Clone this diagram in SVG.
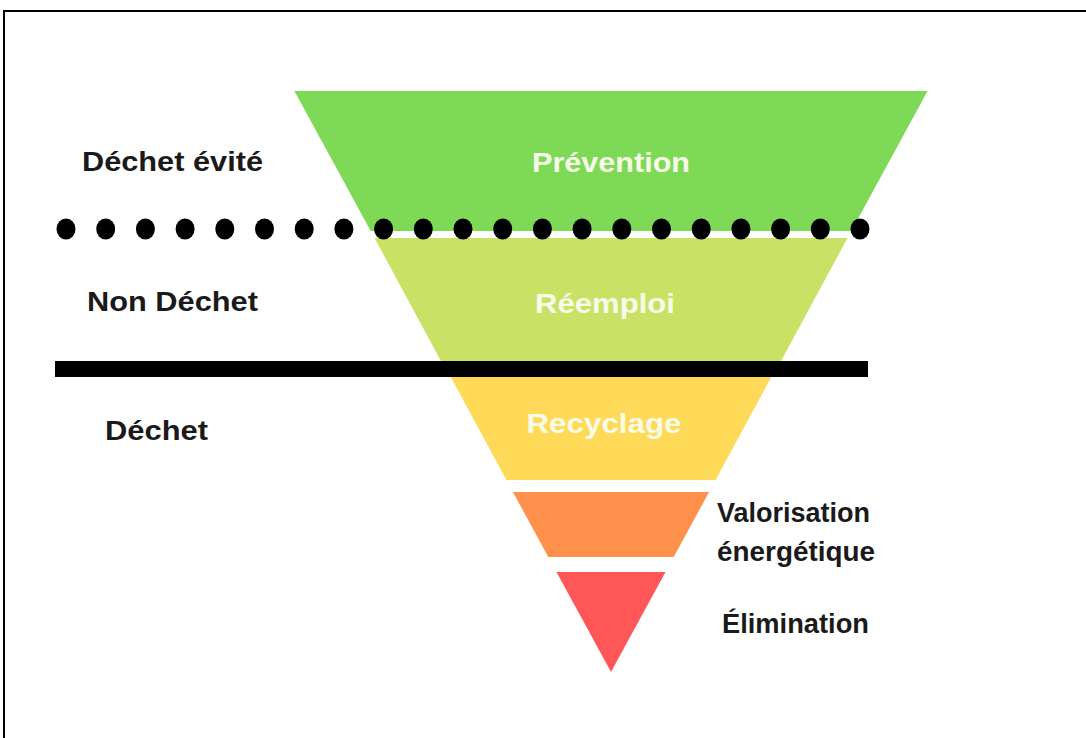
<svg xmlns="http://www.w3.org/2000/svg" width="1086" height="738" viewBox="0 0 1086 738">
  <style>
    .lbl { font-family: "Liberation Sans", Arial, sans-serif; font-weight: bold; font-size: 27px; fill: #1a1a1a; }
    .inner { font-family: "Liberation Sans", Arial, sans-serif; font-weight: bold; font-size: 28px; fill: #f8fbe8; text-anchor: middle; }
    .dot { fill: #000000; }
  </style>
  <rect x="0" y="0" width="1086" height="738" fill="#ffffff"/>
  <!-- frame -->
  <g id="frame" stroke="#000000" stroke-width="2" fill="none">
    <line x1="4" y1="11" x2="1086" y2="11"/>
    <line x1="4" y1="10" x2="4" y2="738"/>
  </g>

  <g id="prevention">
    <polygon points="294.4,91 927.6,91 851.3,231 370.7,231" fill="#7ED957"/>
    <text class="inner" x="611" y="172" textLength="158" lengthAdjust="spacingAndGlyphs">Prévention</text>
  </g>
  <g id="reemploi">
    <polygon points="374.5,238 847.5,238 780.5,362 441.5,362" fill="#C9E265"/>
    <text class="inner" x="605" y="313" textLength="140" lengthAdjust="spacingAndGlyphs">Réemploi</text>
  </g>
  <g id="recyclage">
    <polygon points="450.2,376 771.8,376 715.6,480 506.4,480" fill="#FFDA59"/>
    <text class="inner" x="604" y="433" textLength="155" lengthAdjust="spacingAndGlyphs">Recyclage</text>
  </g>
  <g id="valorisation">
    <polygon points="512.9,492 709.1,492 673.7,557 548.3,557" fill="#FF914D"/>
    <text class="lbl" x="717" y="522" font-size="26" textLength="153" lengthAdjust="spacingAndGlyphs">Valorisation</text>
    <text class="lbl" x="717" y="561" font-size="26" textLength="158" lengthAdjust="spacingAndGlyphs">énergétique</text>
  </g>
  <g id="elimination">
    <polygon points="556.5,572 665.5,572 611,672" fill="#FF5757"/>
    <text class="lbl" x="722" y="633" font-size="26" textLength="147" lengthAdjust="spacingAndGlyphs">Élimination</text>
  </g>

  <g id="label-evite">
    <text class="lbl" x="82" y="171" textLength="181" lengthAdjust="spacingAndGlyphs">Déchet évité</text>
  </g>
  <g id="label-non-dechet">
    <text class="lbl" x="87" y="311" textLength="171" lengthAdjust="spacingAndGlyphs">Non Déchet</text>
  </g>
  <g id="label-dechet">
    <text class="lbl" x="105" y="440" textLength="103" lengthAdjust="spacingAndGlyphs">Déchet</text>
  </g>

  <g id="connectors">
    <g id="dotted-line">
      <ellipse class="dot" cx="66" cy="229" rx="9.5" ry="10.5"/>
      <ellipse class="dot" cx="105.7" cy="229" rx="9.5" ry="10.5"/>
      <ellipse class="dot" cx="145.4" cy="229" rx="9.5" ry="10.5"/>
      <ellipse class="dot" cx="185.1" cy="229" rx="9.5" ry="10.5"/>
      <ellipse class="dot" cx="224.8" cy="229" rx="9.5" ry="10.5"/>
      <ellipse class="dot" cx="264.5" cy="229" rx="9.5" ry="10.5"/>
      <ellipse class="dot" cx="304.2" cy="229" rx="9.5" ry="10.5"/>
      <ellipse class="dot" cx="343.9" cy="229" rx="9.5" ry="10.5"/>
      <ellipse class="dot" cx="383.6" cy="229" rx="9.5" ry="10.5"/>
      <ellipse class="dot" cx="423.3" cy="229" rx="9.5" ry="10.5"/>
      <ellipse class="dot" cx="463" cy="229" rx="9.5" ry="10.5"/>
      <ellipse class="dot" cx="502.7" cy="229" rx="9.5" ry="10.5"/>
      <ellipse class="dot" cx="542.4" cy="229" rx="9.5" ry="10.5"/>
      <ellipse class="dot" cx="582.1" cy="229" rx="9.5" ry="10.5"/>
      <ellipse class="dot" cx="621.8" cy="229" rx="9.5" ry="10.5"/>
      <ellipse class="dot" cx="661.5" cy="229" rx="9.5" ry="10.5"/>
      <ellipse class="dot" cx="701.2" cy="229" rx="9.5" ry="10.5"/>
      <ellipse class="dot" cx="740.9" cy="229" rx="9.5" ry="10.5"/>
      <ellipse class="dot" cx="780.6" cy="229" rx="9.5" ry="10.5"/>
      <ellipse class="dot" cx="820.3" cy="229" rx="9.5" ry="10.5"/>
      <ellipse class="dot" cx="860" cy="229" rx="9.5" ry="10.5"/>
    </g>
    <rect id="solid-line" x="55" y="361" width="813" height="16" fill="#000000"/>
  </g>
</svg>
